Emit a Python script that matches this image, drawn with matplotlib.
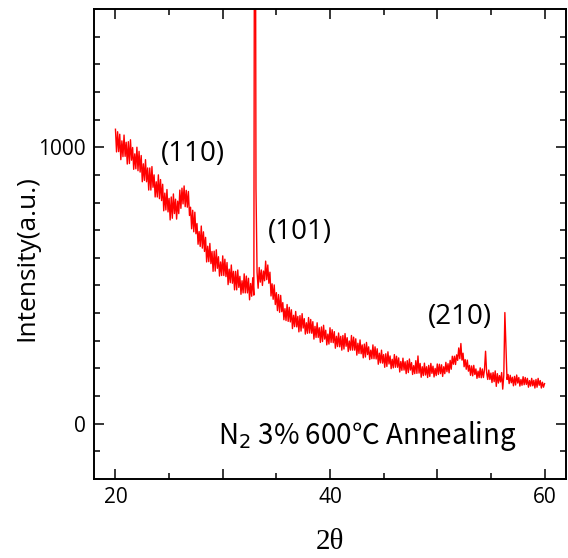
import numpy as np
import matplotlib
matplotlib.use("Agg")
import matplotlib.pyplot as plt
from matplotlib.ticker import MultipleLocator

plt.rcParams['font.family'] = ['Open Sans', 'Noto Sans CJK KR', 'DejaVu Sans']

# XRD scan: 2theta from 20 to 60 deg, step 0.1 deg
two_theta_start = 20.0
two_theta_step = 0.1
intensity = [
    1065, 983, 1056, 984, 1047, 955, 1023, 966, 1044, 967,   # 20
    1018, 939, 1020, 941, 1027, 953, 999, 920, 976, 922,     # 21
    1000, 915, 985, 910, 970, 875, 940, 880, 955, 875,       # 22
    925, 845, 925, 845, 930, 855, 900, 820, 875, 820,        # 23
    900, 814, 883, 807, 866, 770, 834, 773, 847, 766,        # 24
    815, 737, 820, 743, 831, 760, 812, 740, 805, 760,        # 25
    845, 779, 852, 795, 860, 785, 844, 783, 840, 753,        # 26
    783, 705, 772, 694, 765, 687, 724, 649, 695, 641,        # 27
    715, 635, 694, 623, 674, 585, 642, 586, 652, 579,        # 28
    623, 551, 624, 552, 629, 562, 604, 534, 585, 536,        # 29
    607, 536, 595, 532, 583, 503, 559, 510, 574, 508,        # 30
    551, 484, 551, 484, 556, 493, 533, 468, 517, 473,        # 31
    542, 473, 534, 473, 526, 448, 507, 461, 528, 465,        # 32
    3000, 850, 548, 490, 565, 512, 556, 500, 552, 517,       # 33
    588, 521, 574, 508, 548, 462, 506, 450, 502, 431,        # 34
    474, 409, 467, 403, 464, 405, 438, 376, 416, 373,        # 35
    431, 370, 421, 368, 412, 344, 392, 351, 406, 350,        # 36
    388, 332, 391, 335, 398, 346, 380, 324, 365, 327,        # 37
    384, 328, 377, 327, 369, 306, 352, 312, 365, 312,        # 38
    347, 294, 350, 297, 356, 306, 338, 285, 324, 288,        # 39
    347, 294, 340, 293, 333, 273, 316, 279, 328, 278,        # 40
    316, 266, 319, 270, 326, 280, 311, 261, 299, 266,        # 41
    319, 266, 313, 266, 307, 248, 291, 254, 303, 253,        # 42
    285, 238, 288, 241, 294, 250, 278, 232, 266, 235,        # 43
    285, 235, 278, 234, 271, 215, 255, 220, 266, 219,        # 44
    250, 204, 253, 207, 260, 216, 245, 199, 233, 202,        # 45
    250, 204, 244, 204, 238, 187, 225, 193, 237, 194,        # 46
    224, 181, 228, 185, 234, 194, 221, 178, 210, 181,        # 47
    228, 182, 245, 183, 218, 168, 206, 174, 219, 176,        # 48
    206, 167, 211, 171, 218, 182, 208, 169, 200, 174,        # 49
    216, 178, 215, 181, 213, 171, 206, 181, 222, 188,        # 50
    217, 184, 229, 197, 244, 215, 244, 214, 249, 229,        # 51
    274, 235, 290, 230, 255, 206, 232, 197, 230, 190,        # 52
    211, 175, 209, 173, 211, 178, 198, 164, 190, 167,        # 53
    202, 166, 198, 167, 195, 262, 185, 160, 194, 160,        # 54
    183, 149, 185, 152, 191, 135, 181, 147, 174, 151,        # 55
    185, 125, 175, 402, 285, 160, 178, 145, 175, 148,        # 56
    168, 137, 171, 140, 176, 147, 167, 136, 160, 139,        # 57
    170, 141, 167, 142, 164, 132, 156, 136, 164, 137,        # 58
    157, 129, 160, 132, 164, 139, 156, 129, 150, 132,        # 59
    145,                                                     # 60
]
two_theta = two_theta_start + two_theta_step * np.arange(len(intensity))

x_ticks = [20, 30, 40, 50, 60]
x_tick_labels = ['20', '', '40', '', '60']
y_ticks = [0, 1000]
y_tick_labels = ['0', '1000']

peak_labels = ['(110)', '(101)', '(210)']
peak_label_x = [27.2, 37.2, 52.1]
peak_label_y = [974, 695, 385]

fig = plt.figure(figsize=(5.68, 5.58), dpi=100)
ax = fig.add_axes([0.1655, 0.1416, 0.831, 0.8423])

ax.plot(two_theta, intensity, color='#ff0000', lw=1.0)

ax.set_xlim(18, 62)
ax.set_ylim(-200, 1500)
ax.set_xticks(x_ticks)
ax.set_xticklabels(x_tick_labels)
ax.xaxis.set_minor_locator(MultipleLocator(5))
ax.set_yticks(y_ticks)
ax.set_yticklabels(y_tick_labels)
ax.yaxis.set_minor_locator(MultipleLocator(100))
ax.tick_params(which='both', direction='in', top=True, right=True,
               labelsize=15, width=1.1, pad=6)
ax.tick_params(which='major', length=7)
ax.tick_params(which='minor', length=4)
for s in ax.spines.values():
    s.set_linewidth(1.4)

for lab, lx, ly in zip(peak_labels, peak_label_x, peak_label_y):
    ax.text(lx, ly, lab, fontsize=20, ha='center', va='center')

ax.text(29.6, -46, 'N$_2$ 3% 600\u2103 Annealing', fontsize=20, ha='left', va='center',
        family=['Noto Sans CJK KR', 'DejaVu Sans'])

ax.set_ylabel('Intensity(a.u.)', fontsize=19, va='center')
ax.yaxis.set_label_coords(-0.142, 0.471)
ax.set_xlabel('2\u03b8', fontsize=21, family=['Liberation Serif', 'DejaVu Serif'], va='bottom')
ax.xaxis.set_label_coords(0.5, -0.162)

fig.savefig('out.png', dpi=100)
